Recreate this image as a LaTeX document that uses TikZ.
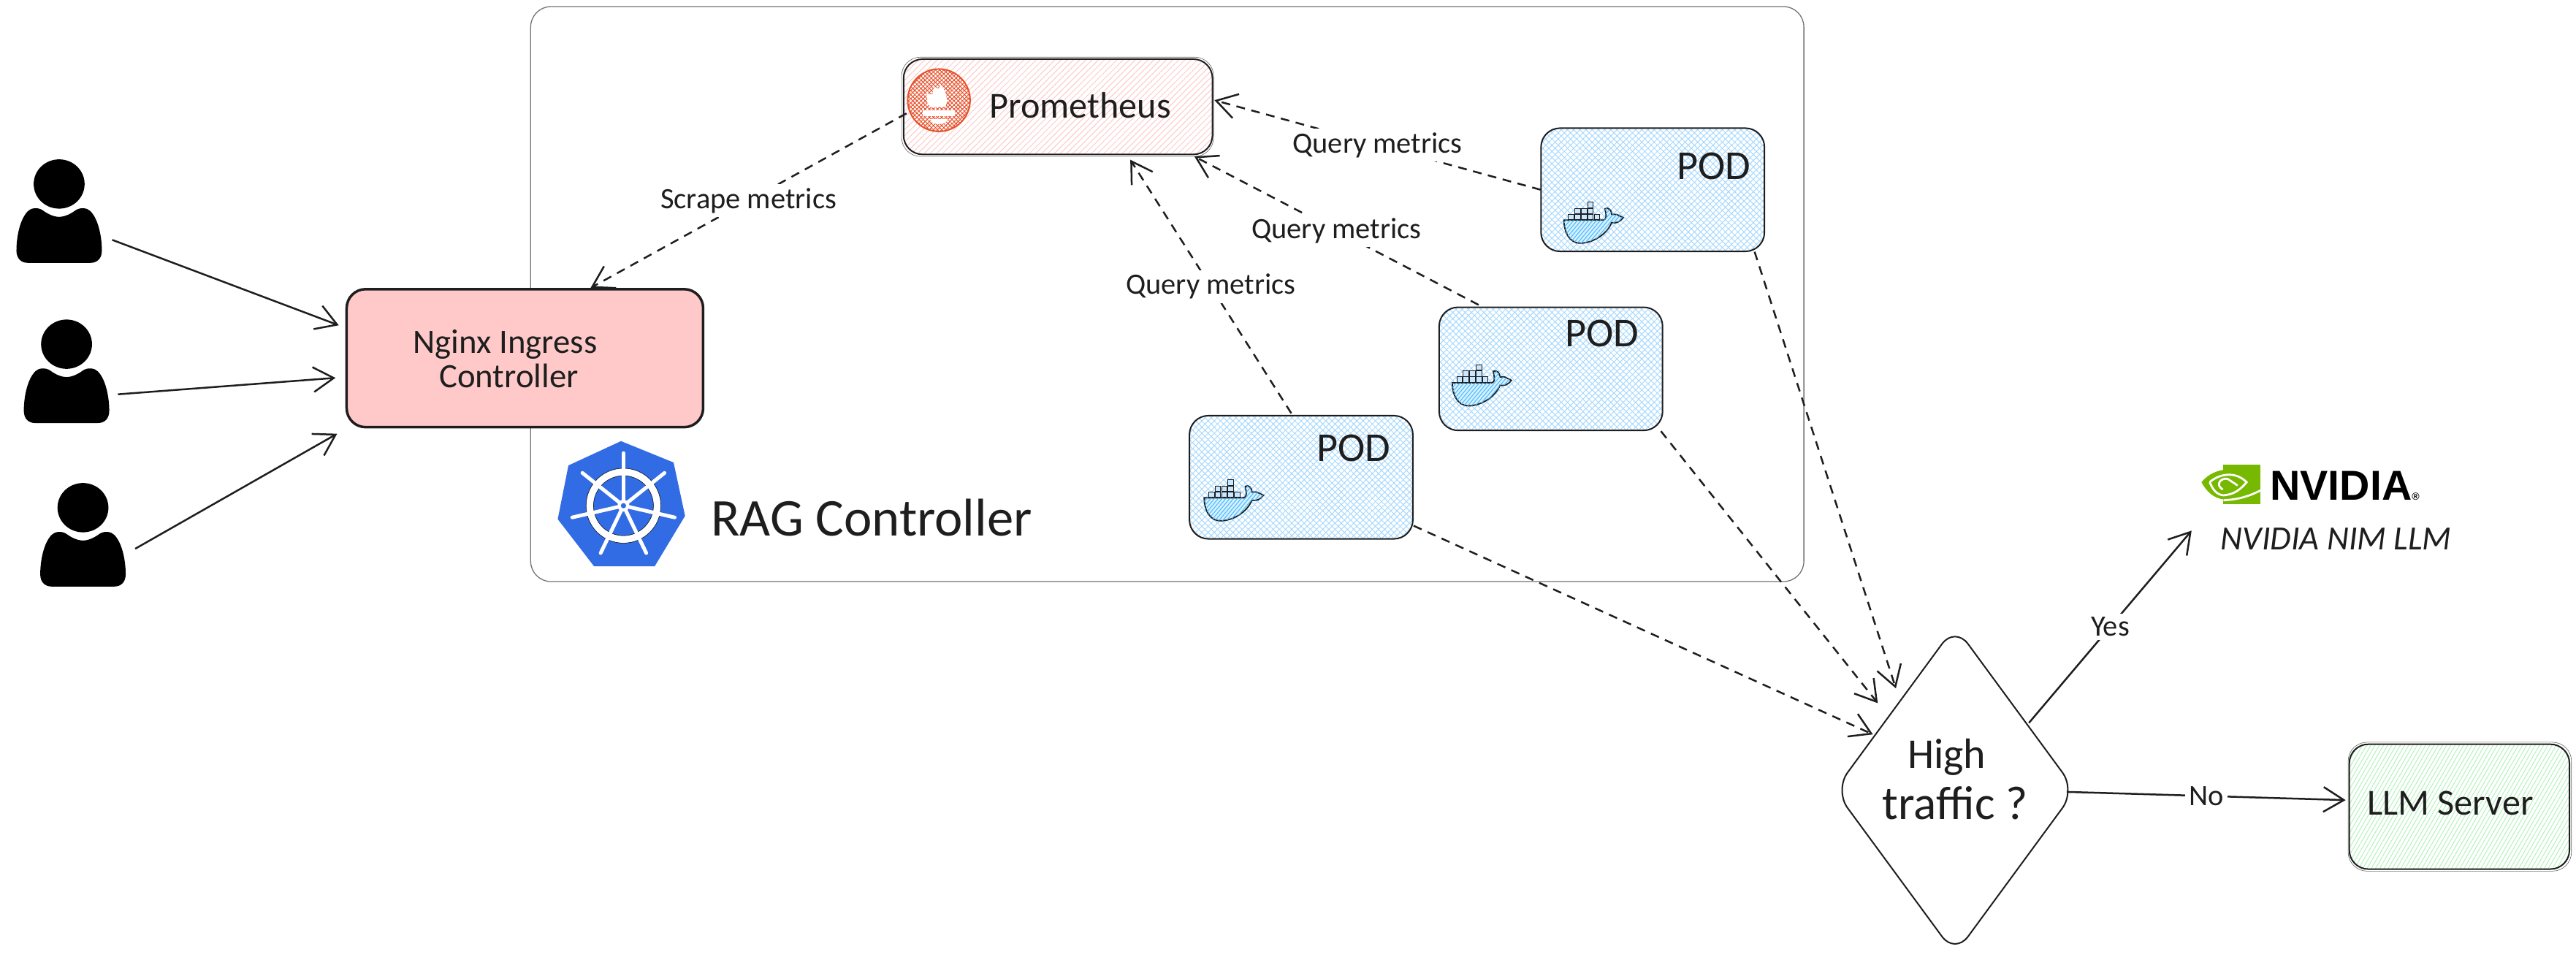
\documentclass[tikz,border=0pt]{standalone}
\usepackage{fontspec}
\setmainfont{Carlito}
\usetikzlibrary{arrows.meta,shapes.geometric,patterns.meta,positioning}

\definecolor{inkline}{HTML}{1E1E1E}
\definecolor{ingressred}{HTML}{FFC9C9}
\definecolor{hatchblue}{HTML}{A5D8FF}
\definecolor{hatchgreen}{HTML}{B2F2BB}
\definecolor{promred}{HTML}{E6522C}
\definecolor{kubeblue}{HTML}{326CE5}
\definecolor{nvgreen}{HTML}{76B900}

\begin{document}
\begin{tikzpicture}[
        x=0.225mm, y=-0.225mm,
        >={Straight Barb[length=2.8mm,width=3.4mm]},
        every node/.style={inner sep=0pt, text=inkline},
        conn/.style={->, draw=inkline, line width=0.25mm},
        dashconn/.style={conn, dash pattern=on 1.2mm off 0.9mm},
        edgelabel/.style={fill=white, inner sep=1.5pt, font=\fontsize{11.5}{13}\selectfont},
        boxsize/.style 2 args={minimum width=#1*0.225mm, minimum height=#2*0.225mm},
        sketchbox/.style={draw=inkline, line width=0.2mm, rounded corners=2.6mm},
        strayline/.style={draw=inkline!70, line width=0.06mm, rounded corners=2.6mm},
        podbox/.style={sketchbox, boxsize={136}{75},
            preaction={pattern={Lines[angle=45,distance=0.6mm,line width=0.1mm]}, pattern color=hatchblue},
            pattern={Lines[angle=-45,distance=0.6mm,line width=0.1mm]}, pattern color=hatchblue},
        podtext/.style={font=\fontsize{16}{18}\selectfont},
        usernode/.style={boxsize={52}{63}},
        person/.pic={
            \fill[black] (0,-16.5) ellipse [x radius=15.5, y radius=15];
            \fill[black] (0,3.5) .. controls (-4,3.5) and (-8,1) .. (-10,-0.5)
                .. controls (-13,-2.5) and (-17,-2) .. (-19,0)
                .. controls (-24,5) and (-26,16) .. (-26,24)
                .. controls (-26,29) and (-23,31.5) .. (-19,31.5) -- (19,31.5)
                .. controls (23,31.5) and (26,29) .. (26,24)
                .. controls (26,16) and (24,5) .. (19,0)
                .. controls (17,-2) and (13,-2.5) .. (10,-0.5)
                .. controls (8,1) and (4,3.5) .. (0,3.5) -- cycle;
        },
        whale/.pic={
            \foreach \col/\row in {0/2,1/2,2/2,3/2,4/2,1/1,2/1,3/1,3/0}
                \draw[inkline, line width=0.08mm, fill=hatchblue!60]
                    (2.7+3.9*\col,3.7*\row) rectangle ++(3.4,3.3);
            \draw[inkline, line width=0.18mm, fill=hatchblue!40,
                postaction={pattern={Lines[angle=50,distance=0.4mm,line width=0.12mm]}, pattern color=blue!35!cyan!70}]
                (0,11) -- (24,11) .. controls (27,10) and (25,6) .. (25,4)
                .. controls (27,3) and (29,5) .. (29,7.5) -- (32,7.5) -- (36,9.5)
                .. controls (34,12) and (32,13) .. (29,12.5)
                .. controls (26,20) and (17,25) .. (10,25)
                .. controls (3,25) and (0,18) .. (0,11) -- cycle;
        }
    ]
    \useasboundingbox (0,0) rectangle (1568,584.3);

    % Nodes
    \draw[draw=gray!90!black, line width=0.13mm, rounded corners=2.8mm] (323,4) rectangle (1098,354);

    \node[usernode] (user1) at (36,128.5) {};
    \node[usernode] (user2) at (40.5,226) {};
    \node[usernode] (user3) at (50.5,325.5) {};
    \pic at (user1) {person};
    \pic at (user2) {person};
    \pic at (user3) {person};

    \node[sketchbox, boxsize={217}{84}, fill=ingressred, line width=0.35mm] (ingress) at (319.5,218) {};
    \node[font=\fontsize{13.3}{13.4}\selectfont, align=center] (ingresstext) at (307.5,218.5) {Nginx Ingress\\ \hspace{1mm}Controller};

    \node[sketchbox, boxsize={188}{58},
        pattern={Lines[angle=45,distance=0.6mm,line width=0.1mm]}, pattern color=ingressred] (prometheus) at (644,65) {};
    \draw[strayline] ([shift={(-1,-1)}]prometheus.north west) rectangle ([shift={(0.5,1)}]prometheus.south east);
    \node[font=\fontsize{14.3}{16}\selectfont] (promtext) at (657.5,64) {Prometheus};

    \node[podbox] (pod1) at (1006,115.5) {};
    \node[podbox] (pod2) at (944,224.5) {};
    \node[podbox] (pod3) at (792,290.5) {};
    \node[podtext] (podtext1) at (1043,101) {POD};
    \node[podtext] (podtext2) at (975,203) {POD};
    \node[podtext] (podtext3) at (824,273) {POD};
    \pic at (952,123) {whale};
    \pic at (884,222) {whale};
    \pic at (733,292) {whale};

    \node[font=\fontsize{20.7}{22}\selectfont] (ragtext) at (530.5,315) {RAG Controller};

    \node[draw=inkline, line width=0.2mm, diamond, boxsize={147}{200}, rounded corners=3mm] (decision) at (1190,481) {};
    \node[font=\fontsize{16.5}{18}\selectfont] (hightext) at (1185,461) {High};
    \node[font=\fontsize{18.5}{20}\selectfont] (traffictext) at (1190,489) {traffic ?};

    \node[sketchbox, boxsize={134}{76},
        pattern={Lines[angle=60,distance=0.5mm,line width=0.1mm]}, pattern color=hatchgreen] (llm) at (1497,491) {};
    \draw[strayline] ([shift={(-0.5,-1)}]llm.north west) rectangle ([shift={(1,1)}]llm.south east);
    \node[font=\fontsize{14.3}{16}\selectfont] (llmtext) at (1491.5,489) {LLM Server};

    \node[font=\fontsize{13.2}{14}\selectfont\itshape] (nimtext) at (1422,328) {NVIDIA NIM LLM};
    \node[font=\fontsize{16.3}{18}\selectfont\bfseries, text=black, anchor=west] (nvidiatext) at (1381.5,295.5) {\fontspec{Liberation Sans}NVIDIA\raisebox{0pt}{\fontsize{4}{4}\selectfont ®}};

    % Kubernetes logo
    \fill[kubeblue] (378,268.5) -- (410,281.5) -- (417,314) -- (398.5,344.7)
        -- (361.6,344.7) -- (339.5,316) -- (346,283.3) -- cycle;
    \draw[white, line width=0.95mm] (379.5,307.8) circle (20.5);
    \draw[inkline, line width=0.06mm] (379.5,307.8) circle (22.8) (379.5,307.8) circle (18.2);
    \foreach \ang in {90,141.4,192.9,244.3,295.7,347.1,398.6}
        \draw[white, line width=0.5mm, line cap=round] (379.5,307.8) -- ++(\ang:-32);
    \fill[white] (379.5,307.8) circle (3.6);
    \fill[kubeblue] (379.5,307.8) circle (1.6);

    % Prometheus logo
    \draw[promred, line width=0.2mm,
        preaction={pattern={Lines[angle=45,distance=0.4mm,line width=0.1mm]}, pattern color=promred},
        pattern={Lines[angle=-45,distance=0.4mm,line width=0.1mm]}, pattern color=promred] (571.5,61) circle (19);
    \fill[white] (564.5,63) -- (564,57) -- (567.5,57.5) -- (568.5,53) -- (571.5,54)
        -- (572.5,51) -- (575.5,56) -- (576.5,61) -- (575.5,65) -- (567,65.5) -- cycle;
    \fill[white] (561.5,67) rectangle (581,70.5);
    \fill[white] (566,72.5) -- (577,72.5) .. controls (576,75) and (574,75.5) .. (571.5,75.5) .. controls (569,75.5) and (567,75) .. (566,72.5) -- cycle;

    % Nvidia logo
    \fill[nvgreen] (1353.4,283) rectangle (1376,307);
    \fill[nvgreen] (1353.4,286) .. controls (1347,287) and (1343,290) .. (1340,293.5)
        .. controls (1343,299) and (1347,303) .. (1353.4,304) -- cycle;
    \draw[white, line width=0.28mm] (1345,293.5) .. controls (1350,289) and (1360,286) .. (1367.5,293.5)
        .. controls (1362,300) and (1358,301) .. (1353.4,301.5) .. controls (1349,301) and (1347,298) .. (1345,293.5);
    \draw[white, line width=0.28mm] (1376,298.5) .. controls (1368,302.5) and (1362,304) .. (1353.4,304.5);
    \draw[white, line width=0.28mm] (1353,298) .. controls (1348,295) and (1352,290.5) .. (1356,291.5) -- (1362,295.5);

    % Edges
    \draw[conn] ([shift={(6,17.5)}]user1.east) -- ([shift={(-4,-20)}]ingress.west);
    \draw[conn] ([shift={(5,14)}]user2.east) -- ([shift={(-6,12)}]ingress.west);
    \draw[conn] ([shift={(5.5,8.5)}]user3.east) -- ([shift={(-5,46)}]ingress.west);

    \draw[dashconn] ([shift={(2,4)}]prometheus.west) -- node[edgelabel] (scrapelabel) {Scrape metrics} ([shift={(40,0)}]ingress.north);
    \draw[dashconn] (pod1.west) -- node[edgelabel] (querylabel1) {Query metrics} ([shift={(1,-4)}]prometheus.east);
    \draw[dashconn] ([shift={(-44,-1)}]pod2.north) -- node[edgelabel] (querylabel2) {Query metrics} ([shift={(83,1)}]prometheus.south);
    \draw[dashconn] ([shift={(-6,-1)}]pod3.north) -- node[edgelabel] (querylabel3) {Query metrics} ([shift={(44,3)}]prometheus.south);

    \draw[dashconn] ([shift={(62,0)}]pod1.south) -- ([shift={(-36,-62)}]decision.center);
    \draw[dashconn] ([shift={(67,0)}]pod2.south) -- ([shift={(-47,-53)}]decision.center);
    \draw[dashconn] ([shift={(0,29.5)}]pod3.east) -- ([shift={(-50,-34)}]decision.center);

    \draw[conn] ([shift={(45,-41)}]decision.center) -- node[edgelabel] (yeslabel) {Yes} ([shift={(-88,-5)}]nimtext.center);
    \draw[conn] ([shift={(68,1)}]decision.center) -- node[edgelabel] (nolabel) {No} ([shift={(-2,-4)}]llm.west);

\end{tikzpicture}
\end{document}
